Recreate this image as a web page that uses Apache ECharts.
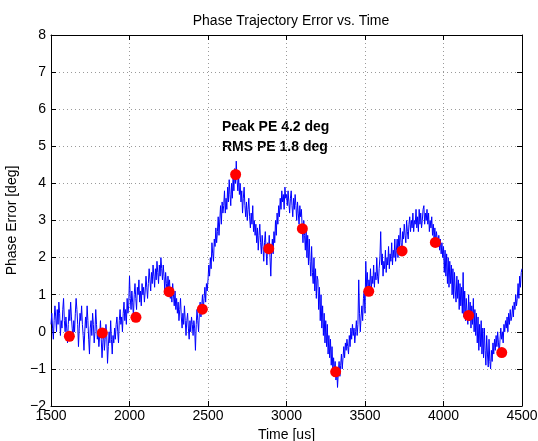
<!DOCTYPE html>
<html><head><meta charset="utf-8">
<script src="https://cdn.jsdelivr.net/npm/echarts@6/dist/echarts.min.js"></script>
<style>html,body{margin:0;padding:0;background:#fff}#c{width:538px;height:441px}</style>
</head><body><div id="c"></div>
<script>
// Time axis start / step for the trace (us)
var traceStart = 1500;
var traceStep = 5;
// Phase error trace (deg), sampled every 5 us from 1500 to 4500 (one row per 100 us)
var traceValues = [
 0.2,0.5,0.1,-0.2,0.3,0.7,0.4,0.0,0.6,0.2,0.8,0.5,-0.1,0.3,0.1,0.6,0.9,0.3,0.0,0.4,
 0.1,-0.3,0.2,0.6,0.3,0.8,0.4,0.1,-0.2,0.3,0.0,0.5,0.9,0.6,0.2,-0.4,0.1,0.5,0.3,0.7,
 0.2,-0.1,-0.5,0.0,0.4,0.1,0.7,0.3,-0.2,-0.6,0.1,0.3,-0.1,0.5,0.2,-0.3,0.0,0.6,0.2,-0.2,
 0.0,-0.4,-0.1,0.3,-0.2,-0.7,-0.3,0.1,-0.5,-0.2,0.2,-0.1,-0.85,-0.4,0.0,-0.3,0.3,-0.2,-0.6,-0.1,
 -0.3,0.1,-0.2,0.2,0.4,0.0,-0.3,0.3,0.6,0.2,0.4,0.0,0.5,0.8,0.3,0.6,0.2,0.9,0.5,0.7,
 1.5,0.9,0.6,1.1,0.8,0.4,1.0,1.3,0.9,0.6,1.2,1.0,1.4,0.8,1.1,0.7,1.3,1.0,1.2,0.8,
 1.1,1.5,1.2,0.9,1.3,1.7,1.4,1.1,1.6,1.3,1.8,1.5,1.2,1.7,1.4,1.9,1.6,1.3,1.8,1.5,
 2.0,1.7,1.4,1.8,1.5,1.1,1.6,1.3,1.0,1.5,1.2,1.4,0.9,1.2,0.8,1.3,1.0,0.7,1.1,0.6,
 0.9,0.5,0.8,0.3,0.6,0.9,0.4,0.1,0.5,0.2,0.7,0.3,-0.1,0.3,0.5,0.1,-0.2,0.3,0.0,0.4,
 0.2,-0.1,0.3,0.1,-0.5,0.2,0.6,0.3,0.0,0.5,0.8,0.4,0.7,1.0,0.6,0.9,1.2,0.8,1.3,1.1,
 1.4,1.8,1.5,2.0,1.7,2.4,2.1,1.9,2.5,2.3,2.8,2.4,2.7,3.1,2.6,3.0,3.4,2.9,3.5,3.2,
 3.4,3.8,3.2,3.6,3.3,3.9,3.5,4.1,3.7,3.4,4.0,3.6,4.2,3.8,4.4,4.0,4.6,4.1,3.8,4.2,
 3.7,4.0,3.5,3.8,3.2,3.6,3.9,3.4,3.1,3.5,3.0,3.3,3.6,3.1,2.8,3.2,2.9,3.4,2.7,3.0,
 2.6,2.9,2.4,2.8,2.2,2.6,2.9,2.4,2.1,2.6,2.3,1.9,2.4,2.7,2.2,1.8,2.4,2.1,2.6,2.0,
 1.5,2.2,2.5,2.1,2.7,2.4,3.0,2.6,3.2,2.9,3.4,3.1,3.6,3.3,3.8,3.5,3.7,3.3,3.9,3.6,
 3.7,3.4,3.8,3.5,3.2,3.6,3.8,3.4,3.1,3.6,3.3,3.7,3.4,3.0,3.5,3.2,2.9,3.4,3.1,3.3,
 2.8,2.4,3.0,2.6,2.2,2.8,2.0,2.6,1.8,2.5,1.9,1.5,2.3,1.6,1.3,2.0,1.1,1.7,0.9,1.5,
 1.4,0.6,1.2,0.3,1.0,0.1,0.7,-0.1,0.5,-0.3,0.3,-0.4,0.2,-0.6,-0.1,-0.7,-0.2,-0.9,-0.4,-1.0,
 -0.7,-1.1,-0.8,-1.3,-1.0,-1.5,-1.1,-0.8,-1.2,-0.9,-0.6,-1.0,-0.7,-0.4,-0.7,-0.3,-0.5,-0.2,-0.4,-0.6,
 -0.1,-0.4,0.1,-0.2,0.2,-0.1,0.1,-0.3,0.0,0.3,-0.1,0.2,1.4,0.5,0.0,0.4,0.7,0.3,0.9,1.1,
 0.5,1.9,1.2,1.6,1.0,1.4,1.2,1.7,1.1,1.5,1.3,1.8,1.2,1.6,1.4,2.0,1.5,1.3,1.7,2.0,
 2.7,1.8,2.1,1.5,1.9,1.7,2.2,1.6,2.0,1.8,2.3,1.7,2.1,1.9,2.4,1.8,2.2,2.0,2.5,1.9,
 2.2,2.5,2.0,2.6,2.3,2.8,2.4,2.1,2.7,2.5,2.9,2.6,2.4,3.0,2.7,2.5,2.9,3.1,2.7,3.0,
 2.8,3.2,2.7,3.0,2.9,3.3,2.8,3.1,2.7,3.3,2.9,3.2,2.8,3.0,3.3,3.4,2.9,3.2,3.0,3.3,
 2.9,3.2,2.7,3.0,2.8,3.1,2.6,2.9,2.5,2.8,2.4,2.7,2.5,2.3,2.6,2.2,2.5,2.1,2.4,2.0,
 2.3,1.6,2.2,1.5,2.1,1.3,2.0,1.2,1.9,1.3,1.8,1.0,1.7,0.9,1.6,1.1,0.8,1.5,0.9,1.4,
 0.6,1.3,0.7,1.2,0.5,1.6,0.4,1.1,0.3,0.9,0.5,0.2,1.0,0.3,0.8,0.1,0.7,0.2,0.9,0.0,
 0.6,-0.1,0.5,-0.3,0.4,-0.5,0.2,-0.4,0.3,-0.6,0.1,-0.7,0.1,-0.5,-0.9,-0.1,-0.6,-0.95,-0.2,-0.8,
 -1.0,-0.5,-0.8,-0.3,-0.6,-0.2,-0.5,-0.1,-0.4,0.0,-0.3,-0.6,-0.2,0.1,-0.2,0.0,-0.3,0.2,0.0,0.3,
 0.1,0.4,0.0,0.5,0.2,0.6,0.3,0.4,0.7,0.4,0.8,0.6,1.0,0.7,0.9,1.3,0.9,1.5,1.2,1.6,
 1.7
];
// Sample points (red markers)
var sampleTimes = [1617, 1827, 2041, 2252, 2464, 2676, 2887, 3101, 3313, 3524, 3736, 3948, 4160, 4371];
var sampleValues = [-0.12, -0.03, 0.39, 1.08, 0.61, 4.24, 2.24, 2.78, -1.08, 1.09, 2.18, 2.41, 0.44, -0.56];
// Axis ticks
var xTicks = [1500, 2000, 2500, 3000, 3500, 4000, 4500];
var yTicks = [-2, -1, 0, 1, 2, 3, 4, 5, 6, 7, 8];
var annotations = ['Peak PE 4.2 deg', 'RMS PE 1.8 deg'];

var trace = traceValues.map(function (v, i) { return [traceStart + i * traceStep, v]; });
var samples = sampleTimes.map(function (t, i) { return [t, sampleValues[i]]; });

var FONT = '"Liberation Sans", Arial, Helvetica, sans-serif';
var chart = echarts.init(document.getElementById('c'), null, {renderer: 'canvas'});
function fmtY(v) { return v < 0 ? '\u2212' + Math.abs(v) : String(v); }
function fmtX(v) { return String(v); }
var gridLine = {show: true, lineStyle: {color: '#9a9a9a', type: [1, 3], width: 1}};
var axLine = {show: true, onZero: false, lineStyle: {color: '#000', width: 1}};
var tick = {show: true, inside: true, length: 5, lineStyle: {color: '#000'}};
chart.setOption({
  animation: false,
  backgroundColor: '#fff',
  title: {
    text: 'Phase Trajectory Error vs. Time', left: 286, top: 9, textAlign: 'center',
    textStyle: {fontFamily: FONT, fontSize: 14, fontWeight: 'normal', color: '#000'}
  },
  grid: {left: 51, right: 16, top: 35, bottom: 35, containLabel: false, outerBoundsMode: 'none'},
  xAxis: [{
    type: 'value', min: xTicks[0], max: xTicks[xTicks.length - 1], interval: 500,
    axisLine: axLine, axisTick: tick, splitLine: gridLine,
    axisLabel: {margin: 3, fontFamily: FONT, fontSize: 14, color: '#000', formatter: fmtX,
      showMinLabel: true, showMaxLabel: true, hideOverlap: false},
    name: 'Time [us]', nameLocation: 'middle', nameGap: 19,
    nameTextStyle: {fontFamily: FONT, fontSize: 14, color: '#000'}
  }, {
    type: 'value', position: 'top', min: xTicks[0], max: xTicks[xTicks.length - 1], interval: 500,
    axisLine: axLine, axisTick: tick, splitLine: {show: false}, axisLabel: {show: false}
  }],
  yAxis: [{
    type: 'value', min: yTicks[0], max: yTicks[yTicks.length - 1], interval: 1,
    axisLine: axLine, axisTick: tick, splitLine: gridLine,
    axisLabel: {margin: 5, fontFamily: FONT, fontSize: 14, color: '#000', formatter: fmtY,
      showMinLabel: true, showMaxLabel: true},
    name: 'Phase Error [deg]', nameLocation: 'middle', nameGap: 31,
    nameTextStyle: {fontFamily: FONT, fontSize: 14, color: '#000'}
  }, {
    type: 'value', position: 'right', min: yTicks[0], max: yTicks[yTicks.length - 1], interval: 1,
    axisLine: axLine, axisTick: tick, splitLine: {show: false}, axisLabel: {show: false}
  }],
  graphic: [{
    type: 'text', left: 222, top: 120,
    style: {text: annotations[0], font: 'bold 14px ' + FONT, fill: '#000'}
  }, {
    type: 'text', left: 222, top: 140,
    style: {text: annotations[1], font: 'bold 14px ' + FONT, fill: '#000'}
  }],
  series: [{
    type: 'line', data: trace, showSymbol: false, symbol: 'none',
    lineStyle: {color: '#0000ff', width: 1}, z: 2
  }, {
    type: 'scatter', data: samples, symbol: 'circle', symbolSize: 11,
    itemStyle: {color: '#ff0000', opacity: 1}, z: 3
  }]
});
</script></body></html>
